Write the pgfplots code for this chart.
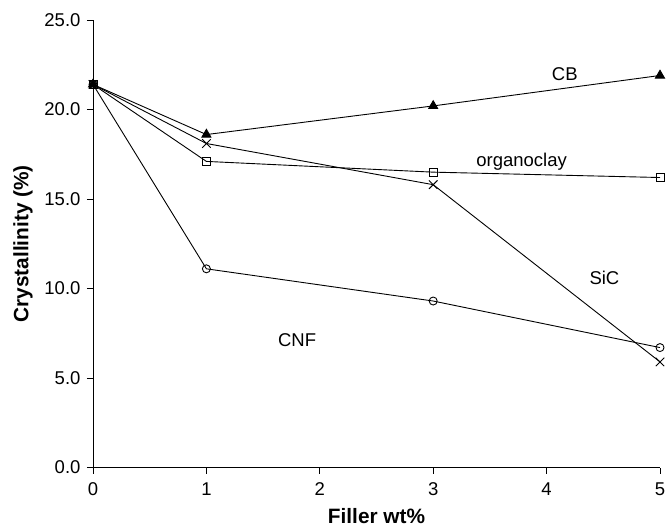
\documentclass[border=0pt]{standalone}
\usepackage{fontspec}
\setmainfont{Liberation Sans}
\usepackage{pgfplots}
\pgfplotsset{compat=1.18}

\begin{document}
\begin{tikzpicture}
\useasboundingbox (-93pt,-62.5pt) rectangle (573pt,467.5pt);
\begin{axis}[at={(0,0)},anchor=south west,
	scale only axis,width=567pt,height=447.5pt,
	xmin=0,xmax=5,ymin=0,ymax=25,
	axis lines=left,axis line style={-,line width=0.9pt},
	xtick={0,1,2,3,4,5},ytick={0,5,10,15,20,25},
	tick align=outside,major tick length=6pt,
	tick style={line width=0.9pt,black},
	/pgf/number format/assume math mode=true,
	yticklabel style={xshift=-3pt,/pgf/number format/.cd,fixed,fixed zerofill,precision=1},
	xticklabel style={yshift=-6pt},
	tick label style={font=\fontsize{18.5}{20}\selectfont},
	ylabel style={at={(axis description cs:-0.1235,0.5)},rotate=0,anchor=center,
		font=\fontsize{20.8}{22}\selectfont\bfseries},
	xlabel style={at={(axis description cs:0.5,-0.108)},anchor=center,
		font=\fontsize{20.8}{22}\selectfont\bfseries},
	xlabel={Filler wt\%},ylabel={Crystallinity (\%)},
	every axis plot/.append style={black,line width=0.9pt,mark options={solid,line width=0.9pt}},
	clip=false]
% CB
\addplot[mark=triangle*,mark size=5.2pt] coordinates {(0,21.4) (1,18.6) (3,20.2) (5,21.9)};
% organoclay
\addplot[mark=square,mark size=4pt,mark options={fill=white}] coordinates {(0,21.4) (1,17.1) (3,16.5) (5,16.2)};
% SiC
\addplot[mark=x,mark size=6pt] coordinates {(0,21.4) (1,18.1) (3,15.8) (5,5.9)};
% CNF
\addplot[mark=o,mark size=4pt,mark options={fill=white}] coordinates {(0,21.4) (1,11.1) (3,9.3) (5,6.7)};
\node[font=\fontsize{18.5}{20}\selectfont] at (axis cs:4.16,22.0) {CB};
\node[font=\fontsize{18.5}{20}\selectfont] at (axis cs:3.78,17.1) {organoclay};
\node[font=\fontsize{18.5}{20}\selectfont] at (axis cs:4.51,10.6) {SiC};
\node[font=\fontsize{18.5}{20}\selectfont] at (axis cs:1.80,7.1) {CNF};
\end{axis}
\end{tikzpicture}
\end{document}
